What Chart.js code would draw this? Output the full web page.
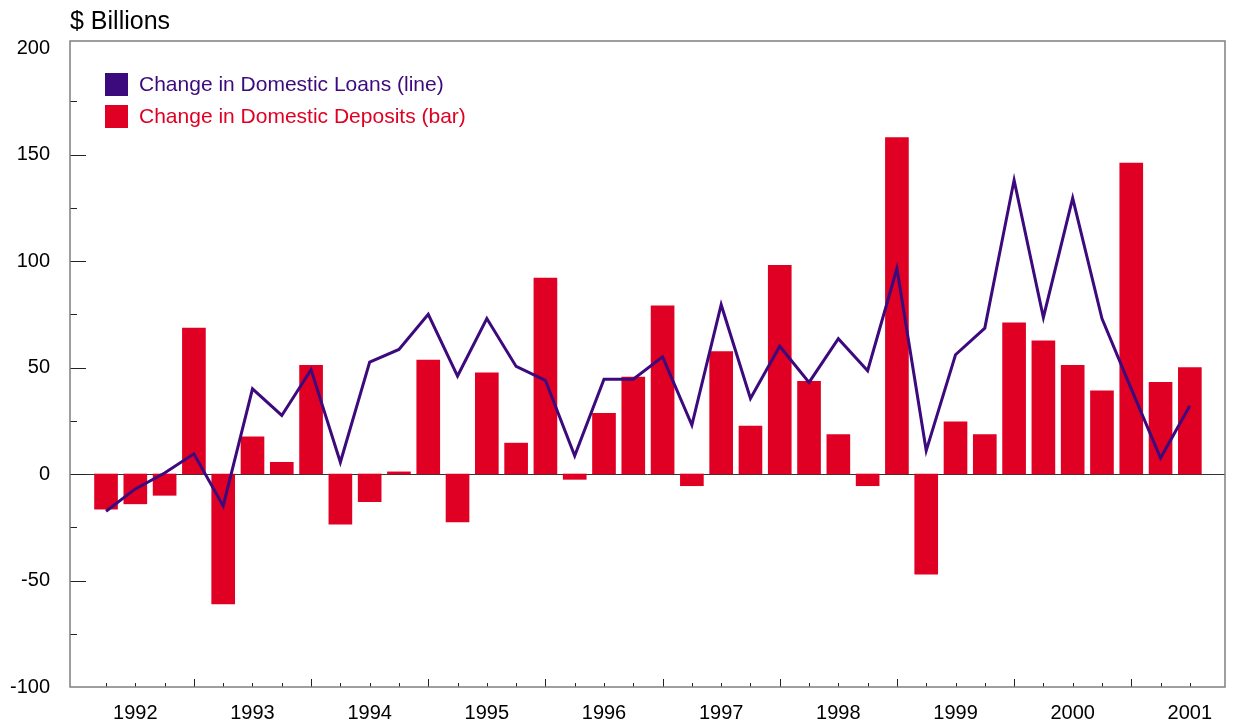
<!DOCTYPE html>
<html><head><meta charset="utf-8">
<script src="https://cdn.jsdelivr.net/npm/chart.js@4.4.1/dist/chart.umd.min.js"></script>
<style>html,body{margin:0;padding:0;background:#fff;} #wrap{width:1233px;height:723px;position:relative}</style>
</head><body><div id="wrap"><canvas id="c"></canvas></div>
<script>
// Quarterly data, 1992 Q1 .. 2001 Q2
const quarters = [];
for (let y = 1992; y <= 2001; y++) for (let q = 1; q <= 4; q++) if (!(y === 2001 && q > 2)) quarters.push(y + ' Q' + q);
const yearLabels = ['1992','1993','1994','1995','1996','1997','1998','1999','2000','2001'];
const deposits = [
  -16.5, -14, -10, 68.5,
  -61, 17.5, 5.5, 51,
  -23.5, -13, 1, 53.5,
  -22.5, 47.5, 14.5, 92,
  -2.5, 28.5, 45.5, 79,
  -5.5, 57.5, 22.5, 98,
  43.5, 18.5, -5.5, 158,
  -47, 24.5, 18.5, 71,
  62.5, 51, 39, 146,
  43, 50
];
const loans = [
  -17.5, -7, 0.5, 9.5,
  -15, 40, 27.5, 49,
  5.5, 52.5, 58.5, 75,
  46, 73, 50.5, 44,
  8.5, 44.5, 44.5, 55,
  23, 79.5, 35.5, 60,
  43, 63.5, 48.5, 96.5,
  11, 56, 68.5, 138,
  73.5, 129.5, 73, 40,
  7.5, 32
];
const yTickValues = [-100, -50, 0, 50, 100, 150, 200];
const seriesNames = ['Change in Domestic Loans (line)', 'Change in Domestic Deposits (bar)'];

const PURPLE = 'rgb(60,10,125)';
const RED = 'rgb(224,0,36)';

Chart.defaults.font.family = "'Liberation Sans', Arial, sans-serif";

const deco = {
  id: 'deco',
  beforeDatasetsDraw(chart) {
    const {ctx, chartArea: a, scales: {x, y}} = chart;
    ctx.save();
    ctx.strokeStyle = '#333';
    ctx.lineWidth = 1;
    const y0 = Math.round(y.getPixelForValue(0)) + 0.5;
    ctx.beginPath(); ctx.moveTo(a.left, y0); ctx.lineTo(a.right, y0); ctx.stroke();
    ctx.strokeStyle = '#222';
    for (let v = -75; v <= 175; v += 25) {
      const p = Math.round(y.getPixelForValue(v)) + 0.5;
      const len = (v % 50 === 0) ? 16 : 7;
      ctx.beginPath(); ctx.moveTo(a.left, p); ctx.lineTo(a.left + len, p); ctx.stroke();
    }
    for (let i = 0; i < quarters.length; i++) {
      const p = Math.round(x.getPixelForValue(i)) + 0.5;
      const len = (i % 4 === 3) ? 8 : 4;
      ctx.beginPath(); ctx.moveTo(p, a.bottom); ctx.lineTo(p, a.bottom - len); ctx.stroke();
    }
    ctx.restore();
  },
  afterDraw(chart) {
    const {ctx, chartArea: a} = chart;
    ctx.save();
    ctx.strokeStyle = '#7f7f7f';
    ctx.lineWidth = 1.5;
    ctx.strokeRect(a.left, a.top, a.right - a.left, a.bottom - a.top);
    ctx.fillStyle = '#000';
    ctx.font = "25px 'Liberation Sans', Arial, sans-serif";
    ctx.textBaseline = 'alphabetic';
    ctx.textAlign = 'left';
    ctx.fillText('$ Billions', a.left, 29);
    const colors = [PURPLE, RED];
    ctx.font = "21px 'Liberation Sans', Arial, sans-serif";
    ctx.textBaseline = 'middle';
    for (let k = 0; k < 2; k++) {
      const bx = a.left + 35, by = a.top + 32 + k * 32;
      ctx.fillStyle = colors[k];
      ctx.fillRect(bx, by, 23, 23);
      ctx.fillText(seriesNames[k], bx + 34, by + 12);
    }
    ctx.restore();
  }
};

new Chart(document.getElementById('c'), {
  data: {
    datasets: [
      {
        type: 'line', label: seriesNames[0],
        data: loans.map((v, i) => ({x: i, y: v})),
        borderColor: PURPLE, backgroundColor: PURPLE,
        borderWidth: 3, pointRadius: 0, tension: 0, order: 0,
        borderJoinStyle: 'miter'
      },
      {
        type: 'bar', label: seriesNames[1],
        data: deposits.map((v, i) => ({x: i, y: v})),
        backgroundColor: RED, borderWidth: 0,
        barThickness: 23, order: 1
      }
    ]
  },
  options: {
    responsive: true, maintainAspectRatio: false, animation: false,
    devicePixelRatio: 1,
    layout: {padding: {top: 41, right: 8, left: 0, bottom: 0}},
    plugins: {legend: {display: false}, tooltip: {enabled: false}},
    scales: {
      x: {
        type: 'linear', min: -1.23, max: 38.2, offset: false,
        grid: {display: false, drawTicks: false, offset: false}, border: {display: false},
        afterBuildTicks: (s) => { s.ticks = yearLabels.map((_, k) => ({value: 1 + 4 * k})); },
        afterFit: (s) => { s.height = 36; },
        ticks: {
          autoSkip: false, maxRotation: 0, padding: 14, color: '#000',
          font: {size: 20},
          callback: (v) => yearLabels[(v - 1) / 4]
        }
      },
      y: {
        type: 'linear', min: -100, max: 203.3,
        grid: {display: false, drawTicks: false}, border: {display: false},
        afterBuildTicks: (s) => { s.ticks = yTickValues.map(v => ({value: v})); },
        afterFit: (s) => { s.width = 70; },
        ticks: {padding: 20, color: '#000', font: {size: 20}}
      }
    }
  },
  plugins: [deco]
});
</script></body></html>
